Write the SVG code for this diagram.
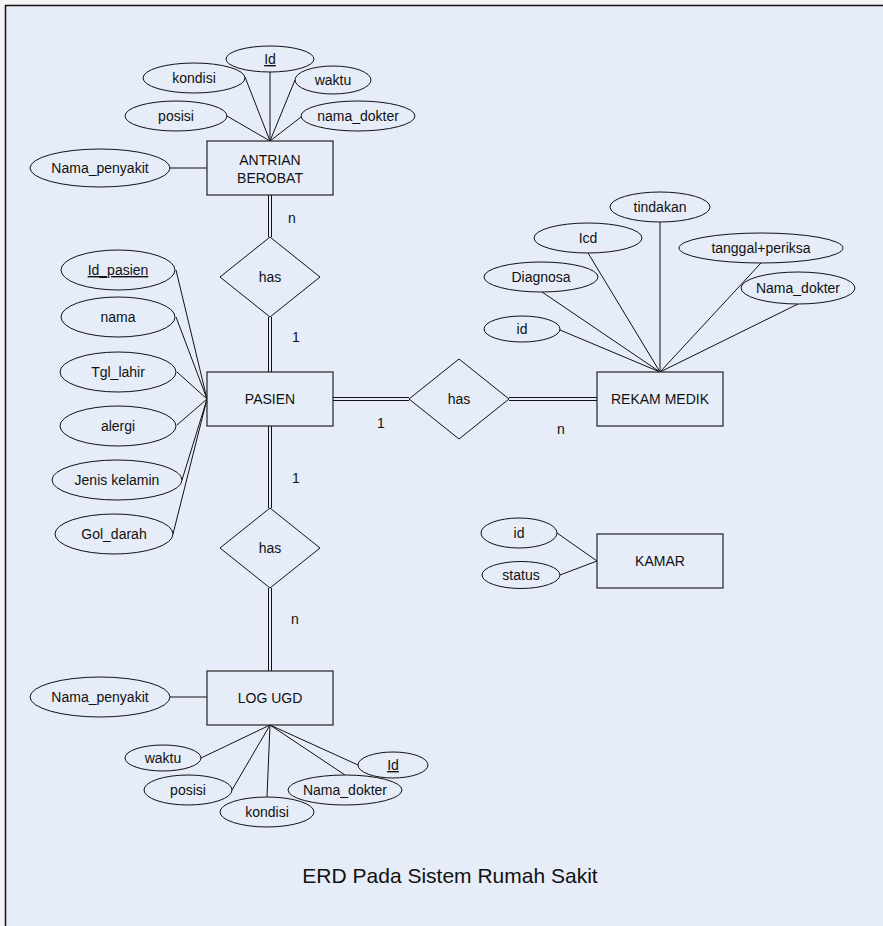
<svg xmlns="http://www.w3.org/2000/svg" width="883" height="926" viewBox="0 0 883 926">
<style>
.ent{fill:#E6EDF8;stroke:#222;stroke-width:1.2}
.att{fill:#E6EDF8;stroke:#111;stroke-width:1}
.rel{fill:#E6EDF8;stroke:#111;stroke-width:1}
.ln{stroke:#111;stroke-width:1;fill:none}
text{font-family:"Liberation Sans",Arial,sans-serif;font-size:14px;fill:#111;text-anchor:middle}
.u{text-decoration:underline}
.card{font-size:14px}
</style>
<rect x="0" y="0" width="883" height="926" fill="#F4F4F4"/>
<rect x="5.5" y="5.5" width="890" height="930" fill="#E6EDF8" stroke="#111" stroke-width="1.5"/>

<g id="connectors">
  <!-- ANTRIAN attrs -->
  <line class="ln" x1="227" y1="116" x2="270" y2="141"/>
  <line class="ln" x1="245" y1="77" x2="270" y2="141"/>
  <line class="ln" x1="270" y1="72" x2="270" y2="141"/>
  <line class="ln" x1="295" y1="80" x2="270" y2="141"/>
  <line class="ln" x1="301" y1="117" x2="270" y2="141"/>
  <line class="ln" x1="169" y1="168" x2="207" y2="168"/>
  <!-- double lines -->
  <line class="ln" x1="268.5" y1="195" x2="268.5" y2="237"/>
  <line class="ln" x1="271.5" y1="195" x2="271.5" y2="237"/>
  <line class="ln" x1="268.5" y1="317" x2="268.5" y2="372"/>
  <line class="ln" x1="271.5" y1="317" x2="271.5" y2="372"/>
  <line class="ln" x1="268.5" y1="426" x2="268.5" y2="508"/>
  <line class="ln" x1="271.5" y1="426" x2="271.5" y2="508"/>
  <line class="ln" x1="268.5" y1="588" x2="268.5" y2="671"/>
  <line class="ln" x1="271.5" y1="588" x2="271.5" y2="671"/>
  <line class="ln" x1="333" y1="397.5" x2="409" y2="397.5"/>
  <line class="ln" x1="333" y1="400.5" x2="409" y2="400.5"/>
  <line class="ln" x1="509" y1="397.5" x2="597" y2="397.5"/>
  <line class="ln" x1="509" y1="400.5" x2="597" y2="400.5"/>
  <!-- PASIEN attrs -->
  <line class="ln" x1="176" y1="270" x2="207" y2="399"/>
  <line class="ln" x1="176" y1="317" x2="207" y2="399"/>
  <line class="ln" x1="177" y1="372" x2="207" y2="399"/>
  <line class="ln" x1="177" y1="425" x2="207" y2="399"/>
  <line class="ln" x1="182" y1="480" x2="207" y2="399"/>
  <line class="ln" x1="173" y1="534" x2="207" y2="399"/>
  <!-- LOG UGD attrs -->
  <line class="ln" x1="169" y1="697" x2="207" y2="697"/>
  <line class="ln" x1="201" y1="758" x2="270" y2="725"/>
  <line class="ln" x1="232" y1="790" x2="270" y2="725"/>
  <line class="ln" x1="267" y1="797" x2="270" y2="725"/>
  <line class="ln" x1="345" y1="775" x2="270" y2="725"/>
  <line class="ln" x1="358" y1="765" x2="270" y2="725"/>
  <!-- REKAM MEDIK attrs -->
  <line class="ln" x1="560" y1="330" x2="660" y2="372"/>
  <line class="ln" x1="542" y1="292" x2="660" y2="372"/>
  <line class="ln" x1="588" y1="253" x2="660" y2="372"/>
  <line class="ln" x1="660" y1="222" x2="660" y2="372"/>
  <line class="ln" x1="761" y1="263" x2="660" y2="372"/>
  <line class="ln" x1="798" y1="304" x2="660" y2="372"/>
  <!-- KAMAR attrs -->
  <line class="ln" x1="557" y1="533" x2="597" y2="561"/>
  <line class="ln" x1="560" y1="575" x2="597" y2="561"/>
  <!-- cardinalities -->
  <text class="card" x="292" y="223">n</text>
  <text class="card" x="296" y="342">1</text>
  <text class="card" x="381" y="428">1</text>
  <text class="card" x="561" y="434">n</text>
  <text class="card" x="296" y="483">1</text>
  <text class="card" x="295" y="624">n</text>
</g>

<g id="antrian">
  <rect class="ent" x="207" y="141" width="126" height="54"/>
  <text x="270" y="165">ANTRIAN</text>
  <text x="270" y="183">BEROBAT</text>
</g>
<g id="antrian-id"><ellipse class="att" cx="270" cy="59" rx="44" ry="13"/><text class="u" x="270" y="64">Id</text></g>
<g id="antrian-kondisi"><ellipse class="att" cx="194" cy="78" rx="51" ry="15"/><text x="194" y="83">kondisi</text></g>
<g id="antrian-waktu"><ellipse class="att" cx="333" cy="80" rx="38" ry="14"/><text x="333" y="85">waktu</text></g>
<g id="antrian-posisi"><ellipse class="att" cx="176" cy="116" rx="51" ry="15"/><text x="176" y="121">posisi</text></g>
<g id="antrian-nama-dokter"><ellipse class="att" cx="358" cy="116" rx="57" ry="15"/><text x="358" y="121">nama_dokter</text></g>
<g id="antrian-nama-penyakit"><ellipse class="att" cx="100" cy="168" rx="70" ry="19"/><text x="100" y="173">Nama_penyakit</text></g>

<g id="has1"><polygon class="rel" points="270,237 320,277 270,317 220,277"/><text x="270" y="282">has</text></g>

<g id="pasien">
  <rect class="ent" x="207" y="372" width="126" height="54"/>
  <text x="270" y="404">PASIEN</text>
</g>
<g id="pasien-id"><ellipse class="att" cx="118" cy="270" rx="57" ry="20"/><text class="u" x="118" y="275">Id_pasien</text></g>
<g id="pasien-nama"><ellipse class="att" cx="118" cy="317" rx="57" ry="20"/><text x="118" y="322">nama</text></g>
<g id="pasien-tgl"><ellipse class="att" cx="118" cy="372" rx="58" ry="20"/><text x="118" y="377">Tgl_lahir</text></g>
<g id="pasien-alergi"><ellipse class="att" cx="118" cy="426" rx="58" ry="20"/><text x="118" y="431">alergi</text></g>
<g id="pasien-jk"><ellipse class="att" cx="117" cy="480" rx="65" ry="20"/><text x="117" y="485">Jenis kelamin</text></g>
<g id="pasien-gol"><ellipse class="att" cx="114" cy="534" rx="59" ry="20"/><text x="114" y="539">Gol_darah</text></g>

<g id="has2"><polygon class="rel" points="459,359 509,399 459,439 409,399"/><text x="459" y="404">has</text></g>

<g id="rekam">
  <rect class="ent" x="597" y="372" width="126" height="54"/>
  <text x="660" y="404">REKAM MEDIK</text>
</g>
<g id="rekam-id"><ellipse class="att" cx="522" cy="329" rx="38" ry="13"/><text x="522" y="334">id</text></g>
<g id="rekam-diagnosa"><ellipse class="att" cx="541" cy="277" rx="57" ry="15"/><text x="541" y="282">Diagnosa</text></g>
<g id="rekam-icd"><ellipse class="att" cx="588" cy="238" rx="54" ry="15"/><text x="588" y="243">Icd</text></g>
<g id="rekam-tindakan"><ellipse class="att" cx="660" cy="207" rx="50" ry="15"/><text x="660" y="212">tindakan</text></g>
<g id="rekam-tanggal"><ellipse class="att" cx="761" cy="248" rx="82" ry="15"/><text x="761" y="253">tanggal+periksa</text></g>
<g id="rekam-dokter"><ellipse class="att" cx="798" cy="288" rx="57" ry="16"/><text x="798" y="293">Nama_dokter</text></g>

<g id="has3"><polygon class="rel" points="270,508 320,548 270,588 220,548"/><text x="270" y="553">has</text></g>

<g id="logugd">
  <rect class="ent" x="207" y="671" width="126" height="54"/>
  <text x="270" y="703">LOG UGD</text>
</g>
<g id="log-nama-penyakit"><ellipse class="att" cx="100" cy="697" rx="70" ry="20"/><text x="100" y="702">Nama_penyakit</text></g>
<g id="log-waktu"><ellipse class="att" cx="163" cy="758" rx="38" ry="13"/><text x="163" y="763">waktu</text></g>
<g id="log-posisi"><ellipse class="att" cx="188" cy="790" rx="44" ry="15"/><text x="188" y="795">posisi</text></g>
<g id="log-kondisi"><ellipse class="att" cx="267" cy="812" rx="47" ry="15"/><text x="267" y="817">kondisi</text></g>
<g id="log-dokter"><ellipse class="att" cx="345" cy="790" rx="57" ry="15"/><text x="345" y="795">Nama_dokter</text></g>
<g id="log-id"><ellipse class="att" cx="393" cy="765" rx="35" ry="13"/><text class="u" x="393" y="770">Id</text></g>

<g id="kamar">
  <rect class="ent" x="597" y="534" width="126" height="54"/>
  <text x="660" y="566">KAMAR</text>
</g>
<g id="kamar-id"><ellipse class="att" cx="519" cy="533" rx="38" ry="15"/><text x="519" y="538">id</text></g>
<g id="kamar-status"><ellipse class="att" cx="521" cy="575" rx="39" ry="13.5"/><text x="521" y="580">status</text></g>

<text x="450" y="883" style="font-size:21px">ERD Pada Sistem Rumah Sakit</text>
</svg>
